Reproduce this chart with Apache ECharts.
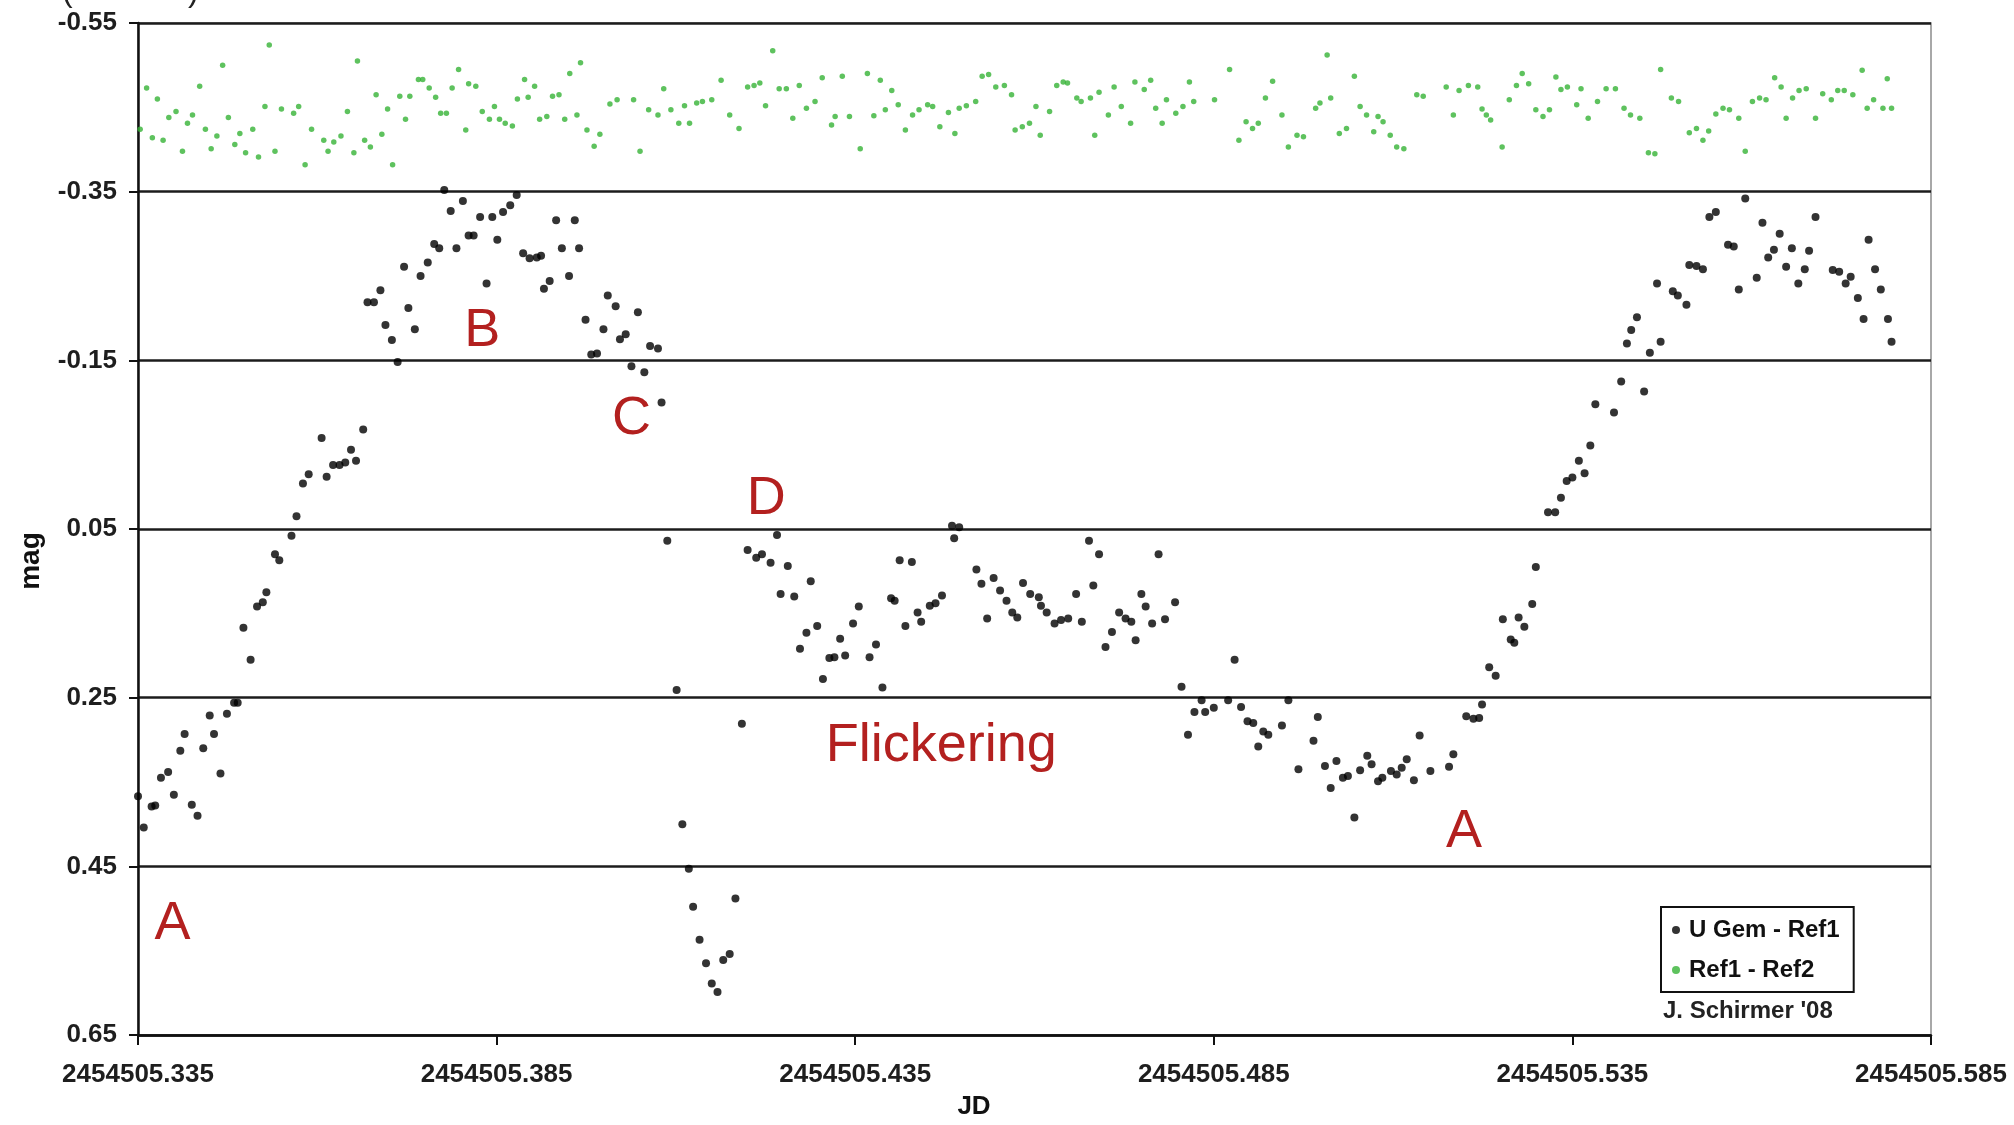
<!DOCTYPE html>
<html>
<head>
<meta charset="utf-8">
<script src="https://cdn.jsdelivr.net/npm/echarts@6/dist/echarts.min.js"></script>
<style>
  html, body { margin: 0; padding: 0; background: #fff; }
  #chart { width: 2014px; height: 1125px; }
</style>
</head>
<body>
<div id="chart"></div>
<script>
// Julian Date base; times below are fractions of a day after it
const JD_BASE = 2454505;

// U Gem - Ref1 differential magnitudes
const ugemTime = [
  0.3350,0.3358,0.3369,0.3374,0.3382,0.3392,0.3400,0.3409,0.3415,0.3425,0.3433,0.3441,0.3450,0.3456,0.3465,0.3474,
  0.3484,0.3489,0.3497,0.3507,0.3516,0.3524,0.3529,0.3541,0.3547,0.3564,0.3571,0.3580,0.3588,0.3606,0.3613,0.3622,
  0.3631,0.3639,0.3647,0.3654,0.3664,0.3670,0.3679,0.3688,0.3695,0.3704,0.3712,0.3721,0.3727,0.3736,0.3744,0.3754,
  0.3763,0.3770,0.3777,0.3786,0.3794,0.3803,0.3811,0.3818,0.3827,0.3836,0.3844,0.3851,0.3859,0.3869,0.3878,0.3887,
  0.3896,0.3906,0.3912,0.3916,0.3924,0.3933,0.3941,0.3951,0.3959,0.3965,0.3974,0.3982,0.3990,0.3999,0.4005,0.4016,
  0.4022,0.4030,0.4038,0.4047,0.4056,0.4064,0.4075,0.4080,0.4088,0.4101,0.4109,0.4118,0.4124,0.4133,0.4142,0.4150,
  0.4158,0.4166,0.4175,0.4183,0.4192,0.4200,0.4212,0.4220,0.4232,0.4241,0.4246,0.4256,0.4265,0.4273,0.4282,0.4288,
  0.4297,0.4305,0.4314,0.4321,0.4329,0.4336,0.4347,0.4355,0.4370,0.4379,0.4388,0.4400,0.4405,0.4412,0.4420,0.4429,
  0.4437,0.4442,0.4454,0.4462,0.4471,0.4485,0.4488,0.4495,0.4519,0.4526,0.4534,0.4543,0.4552,0.4561,0.4569,0.4576,
  0.4584,0.4594,0.4606,0.4609,0.4617,0.4628,0.4637,0.4647,0.4658,0.4666,0.4676,0.4682,0.4690,0.4699,0.4708,0.4718,
  0.4727,0.4735,0.4741,0.4749,0.4755,0.4764,0.4773,0.4782,0.4796,0.4805,0.4814,0.4823,0.4833,0.4838,0.4850,0.4870,
  0.4879,0.4888,0.4897,0.4905,0.4912,0.4919,0.4926,0.4945,0.4954,0.4968,0.4989,0.4995,0.5005,0.5013,0.5021,0.5030,
  0.5037,0.5046,0.5054,0.5064,0.5070,0.5079,0.5085,0.5097,0.5105,0.5112,0.5119,0.5129,0.5137,0.5152,0.5178,0.5184,
  0.5202,0.5212,0.5220,0.5224,0.5234,0.5243,0.5253,0.5264,0.5269,0.5275,0.5283,0.5294,0.5299,0.5316,0.5326,0.5334,
  0.5342,0.5350,0.5359,0.5367,0.5375,0.5382,0.5408,0.5418,0.5426,0.5432,0.5440,0.5450,0.5458,0.5468,0.5473,0.5490,
  0.5497,0.5509,0.5513,0.5523,0.5532,0.5541,0.5550,0.5567,0.5575,0.5582,0.5591,0.5607,0.5615,0.5623,0.5631,0.5639,
  0.5648,0.5656,0.5665,0.5674,0.5680,0.5689,0.5713,0.5722,0.5731,0.5738,0.5748,0.5756,0.5763,0.5772,0.5780,0.5790,
  0.5795
];
const ugemMag = [
  0.367,0.404,0.379,0.378,0.345,0.338,0.365,0.313,0.293,0.377,0.390,0.310,0.271,0.293,0.340,0.269,
  0.256,0.256,0.167,0.205,0.142,0.137,0.125,0.080,0.087,0.058,0.035,-0.004,-0.015,-0.058,-0.012,-0.026,
  -0.026,-0.029,-0.044,-0.031,-0.068,-0.219,-0.219,-0.233,-0.192,-0.174,-0.148,-0.261,-0.212,-0.187,-0.250,-0.266,
  -0.288,-0.283,-0.352,-0.327,-0.283,-0.339,-0.298,-0.298,-0.320,-0.241,-0.320,-0.293,-0.326,-0.334,-0.346,-0.277,
  -0.271,-0.272,-0.274,-0.235,-0.244,-0.316,-0.283,-0.250,-0.316,-0.283,-0.198,-0.157,-0.158,-0.187,-0.227,-0.214,
  -0.175,-0.181,-0.143,-0.207,-0.136,-0.167,-0.164,-0.100,0.064,0.241,0.400,0.453,0.498,0.537,0.565,0.589,
  0.599,0.561,0.554,0.488,0.281,0.075,0.084,0.080,0.090,0.057,0.127,0.094,0.130,0.192,0.173,0.112,
  0.165,0.228,0.203,0.202,0.180,0.200,0.162,0.142,0.202,0.187,0.238,0.132,0.135,0.087,0.165,0.089,
  0.149,0.160,0.141,0.138,0.129,0.046,0.061,0.048,0.098,0.115,0.156,0.108,0.123,0.135,0.149,0.155,
  0.114,0.127,0.131,0.141,0.149,0.162,0.158,0.156,0.127,0.160,0.064,0.117,0.080,0.190,0.172,0.149,
  0.156,0.160,0.182,0.127,0.142,0.162,0.080,0.157,0.137,0.237,0.294,0.267,0.253,0.267,0.262,0.253,
  0.205,0.261,0.278,0.280,0.308,0.290,0.294,0.283,0.253,0.335,0.301,0.273,0.331,0.357,0.325,0.345,
  0.343,0.392,0.336,0.319,0.329,0.349,0.345,0.337,0.341,0.333,0.323,0.348,0.295,0.337,0.332,0.317,
  0.272,0.275,0.274,0.258,0.214,0.224,0.157,0.181,0.185,0.155,0.166,0.139,0.095,0.030,0.030,0.013,
  -0.007,-0.011,-0.031,-0.016,-0.049,-0.098,-0.088,-0.125,-0.170,-0.186,-0.201,-0.113,-0.159,-0.241,-0.172,-0.232,
  -0.227,-0.216,-0.263,-0.262,-0.258,-0.320,-0.326,-0.287,-0.285,-0.234,-0.342,-0.248,-0.313,-0.272,-0.281,-0.300,
  -0.261,-0.283,-0.241,-0.258,-0.280,-0.320,-0.257,-0.255,-0.241,-0.249,-0.224,-0.199,-0.293,-0.258,-0.234,-0.199,
  -0.172
];

// Ref1 - Ref2 check-star differences
const refTime = [
  0.3353,0.3362,0.3370,0.3377,0.3385,0.3393,0.3403,0.3412,0.3419,0.3426,0.3436,0.3444,0.3452,0.3460,0.3468,0.3476,
  0.3485,0.3492,0.3500,0.3510,0.3518,0.3527,0.3533,0.3541,0.3550,0.3567,0.3574,0.3583,0.3592,0.3609,0.3615,0.3623,
  0.3633,0.3642,0.3651,0.3656,0.3666,0.3674,0.3682,0.3690,0.3698,0.3705,0.3715,0.3723,0.3729,0.3741,0.3747,0.3756,
  0.3765,0.3772,0.3780,0.3788,0.3797,0.3807,0.3811,0.3821,0.3830,0.3840,0.3847,0.3854,0.3862,0.3872,0.3879,0.3889,
  0.3894,0.3903,0.3910,0.3920,0.3928,0.3937,0.3945,0.3952,0.3962,0.3967,0.3976,0.3986,0.3994,
  0.4008,0.4018,0.4041,0.4050,0.4062,0.4075,0.4083,0.4093,0.4104,0.4112,0.4119,0.4129,0.4137,0.4150,0.4163,0.4175,
  0.4188,0.4200,0.4209,0.4217,0.4225,0.4235,0.4244,0.4254,0.4263,0.4272,0.4282,0.4294,0.4304,0.4317,0.4322,0.4332,
  0.4342,0.4357,0.4367,0.4376,0.4385,0.4392,0.4401,0.4410,0.4420,0.4430,0.4439,0.4451,0.4458,0.4468,0.4480,0.4489,
  0.4495,0.4505,0.4518,0.4527,0.4536,0.4546,0.4558,0.4568,0.4573,0.4583,0.4593,0.4602,0.4608,0.4621,0.4631,0.4640,
  0.4646,0.4659,0.4665,0.4678,0.4684,0.4690,0.4703,0.4711,0.4721,0.4734,0.4740,0.4753,0.4762,0.4769,0.4778,0.4784,
  0.4797,0.4807,0.4816,0.4822,0.4851,0.4872,0.4885,0.4895,0.4904,0.4912,0.4922,0.4932,0.4945,0.4954,0.4966,0.4975,
  0.4992,0.4998,0.5008,0.5013,0.5025,0.5035,0.5046,0.5054,0.5063,0.5073,0.5079,0.5086,0.5096,0.5105,0.5115,0.5133,
  0.5142,0.5174,0.5184,0.5192,0.5205,0.5218,0.5224,0.5230,0.5236,0.5252,0.5262,0.5272,0.5280,0.5289,0.5299,0.5309,
  0.5318,0.5327,0.5334,0.5343,0.5356,0.5362,0.5372,0.5385,0.5397,0.5410,0.5422,0.5431,0.5444,0.5456,0.5465,0.5473,
  0.5488,0.5498,0.5513,0.5523,0.5532,0.5540,0.5550,0.5560,0.5569,0.5582,0.5591,0.5601,0.5611,0.5620,0.5632,0.5641,
  0.5648,0.5657,0.5666,0.5676,0.5689,0.5699,0.5711,0.5720,0.5729,0.5741,0.5754,0.5761,0.5770,0.5783,0.5789,0.5795
];
const refMag = [
  -0.424,-0.473,-0.414,-0.460,-0.411,-0.438,-0.445,-0.398,-0.431,-0.441,-0.475,-0.424,-0.401,-0.416,-0.500,-0.438,
  -0.406,-0.419,-0.396,-0.424,-0.391,-0.451,-0.524,-0.398,-0.448,-0.443,-0.451,-0.382,-0.424,-0.411,-0.398,-0.409,
  -0.416,-0.445,-0.396,-0.505,-0.411,-0.403,-0.465,-0.418,-0.448,-0.382,-0.463,-0.436,-0.463,-0.483,-0.483,-0.473,
  -0.462,-0.443,-0.443,-0.473,-0.495,-0.423,-0.478,-0.475,-0.445,-0.436,-0.451,-0.436,-0.431,-0.428,-0.460,-0.483,
  -0.462,-0.475,-0.436,-0.439,-0.463,-0.465,-0.436,-0.490,-0.441,-0.503,-0.423,-0.404,-0.418,
  -0.454,-0.459,-0.459,-0.398,-0.447,-0.441,-0.472,-0.447,-0.431,-0.452,-0.431,-0.455,-0.457,-0.459,-0.482,-0.441,
  -0.425,-0.474,-0.476,-0.479,-0.452,-0.517,-0.472,-0.472,-0.437,-0.476,-0.449,-0.457,-0.485,-0.429,-0.439,-0.487,
  -0.439,-0.401,-0.490,-0.440,-0.482,-0.447,-0.470,-0.453,-0.423,-0.441,-0.447,-0.453,-0.451,-0.427,-0.444,-0.419,
  -0.449,-0.452,-0.457,-0.487,-0.489,-0.474,-0.476,-0.465,-0.423,-0.427,-0.431,-0.451,-0.417,-0.445,-0.476,-0.480,
  -0.479,-0.461,-0.457,-0.461,-0.417,-0.468,-0.441,-0.474,-0.451,-0.431,-0.480,-0.471,-0.482,-0.449,-0.431,-0.459,
  -0.443,-0.451,-0.480,-0.457,-0.459,-0.495,-0.411,-0.433,-0.425,-0.431,-0.461,-0.481,-0.441,-0.403,-0.417,-0.415,
  -0.449,-0.455,-0.512,-0.461,-0.419,-0.425,-0.487,-0.451,-0.441,-0.421,-0.439,-0.433,-0.417,-0.403,-0.401,-0.465,
  -0.463,-0.474,-0.441,-0.470,-0.476,-0.474,-0.448,-0.441,-0.435,-0.403,-0.459,-0.476,-0.490,-0.478,-0.447,-0.439,
  -0.447,-0.486,-0.471,-0.474,-0.453,-0.472,-0.437,-0.457,-0.472,-0.472,-0.449,-0.441,-0.437,-0.396,-0.395,-0.495,
  -0.461,-0.457,-0.420,-0.425,-0.411,-0.422,-0.442,-0.449,-0.447,-0.437,-0.398,-0.457,-0.461,-0.459,-0.485,-0.474,
  -0.437,-0.461,-0.470,-0.472,-0.437,-0.466,-0.459,-0.470,-0.470,-0.465,-0.494,-0.449,-0.459,-0.449,-0.484,-0.449
];

// Phase annotations (time, magnitude of the label centre)
const noteText = ['A', 'B', 'C', 'D', 'Flickering', 'A'];
const noteTime = [0.3398, 0.3830, 0.4038, 0.4226, 0.4470, 0.5199];
const noteMag  = [0.518, -0.185, -0.080, 0.015, 0.308, 0.409];

const chart = echarts.init(document.getElementById('chart'), null, { renderer: 'canvas' });
const zip = (xs, ys) => xs.map((x, i) => [x, ys[i]]);
const FONT = 'Liberation Sans, Arial, sans-serif';

chart.setOption({
  backgroundColor: '#ffffff',
  animation: false,
  textStyle: { fontFamily: FONT },
  grid: {
    left: 138, right: 83, top: 23, bottom: 88,
    show: true, borderColor: '#8c8c8c', borderWidth: 1.5, backgroundColor: 'transparent'
  },
  xAxis: {
    type: 'value',
    min: 0.335, max: 0.585, interval: 0.05,
    name: 'JD', nameLocation: 'middle', nameGap: 59,
    nameTextStyle: { fontFamily: FONT, fontWeight: 'bold', fontSize: 26, color: '#111', padding: [0, 121, 0, 0] },
    axisLine: { show: true, onZero: false, lineStyle: { color: '#111', width: 2.5 } },
    axisTick: { show: true, length: 10, lineStyle: { color: '#111', width: 2 } },
    splitLine: { show: false },
    axisLabel: {
      formatter: v => (JD_BASE + v).toFixed(3),
      fontFamily: FONT, fontWeight: 'bold', fontSize: 26, color: '#1e1e1e', margin: 27,
      showMinLabel: true, showMaxLabel: true
    }
  },
  yAxis: {
    type: 'value', inverse: true,
    min: -0.55, max: 0.65, interval: 0.2,
    name: 'mag', nameLocation: 'middle', nameRotate: 90, nameGap: 93,
    nameTextStyle: { fontFamily: FONT, fontWeight: 'bold', fontSize: 28, color: '#111', padding: [0, 64, 0, 0] },
    axisLine: { show: true, onZero: false, lineStyle: { color: '#111', width: 2.5 } },
    axisTick: { show: true, length: 9, lineStyle: { color: '#111', width: 2 } },
    splitLine: { show: true, lineStyle: { color: '#1c1c1c', width: 2.5 } },
    axisLabel: {
      formatter: v => v.toFixed(2),
      fontFamily: FONT, fontWeight: 'bold', fontSize: 26, color: '#1e1e1e', margin: 21,
      showMinLabel: true, showMaxLabel: true
    }
  },
  legend: {
    orient: 'vertical', left: 1661, top: 907,
    data: ['U Gem - Ref1', 'Ref1 - Ref2'],
    icon: 'circle', itemWidth: 16, itemHeight: 8, itemGap: 12,
    padding: [9, 14, 8, 11],
    borderColor: '#111', borderWidth: 2, backgroundColor: '#fff',
    textStyle: { fontFamily: FONT, fontWeight: 'bold', fontSize: 24, lineHeight: 28, color: '#111' }
  },
  series: [
    {
      name: 'Ref1 - Ref2', type: 'scatter',
      data: zip(refTime, refMag),
      symbol: 'circle', symbolSize: 5.5,
      itemStyle: { color: '#36b336' }
    },
    {
      name: 'U Gem - Ref1', type: 'scatter',
      data: zip(ugemTime, ugemMag),
      symbol: 'circle', symbolSize: 8, z: 3,
      itemStyle: { color: '#000' }
    }
  ]
});

// Annotations placed through the axes' own coordinate system
const noteGraphics = noteText.map((txt, i) => {
  const p = chart.convertToPixel({ gridIndex: 0 }, [noteTime[i], noteMag[i]]);
  return {
    type: 'text', x: p[0], y: p[1], z: 10,
    style: {
      text: txt, fill: '#b3201f', font: '54px ' + FONT,
      textAlign: 'center', textVerticalAlign: 'middle'
    }
  };
});

chart.setOption({
  graphic: noteGraphics.concat([
    {
      type: 'text', x: 1663, y: 1011,
      style: { text: "J. Schirmer '08", fill: '#222', font: 'bold 24px ' + FONT, textVerticalAlign: 'middle' }
    },
    {
      type: 'text', x: 62, y: -24,
      style: { text: '(', fill: '#222', font: '32px ' + FONT }
    },
    {
      type: 'text', x: 188, y: -24,
      style: { text: ')', fill: '#222', font: '32px ' + FONT }
    }
  ])
});
</script>
</body>
</html>
